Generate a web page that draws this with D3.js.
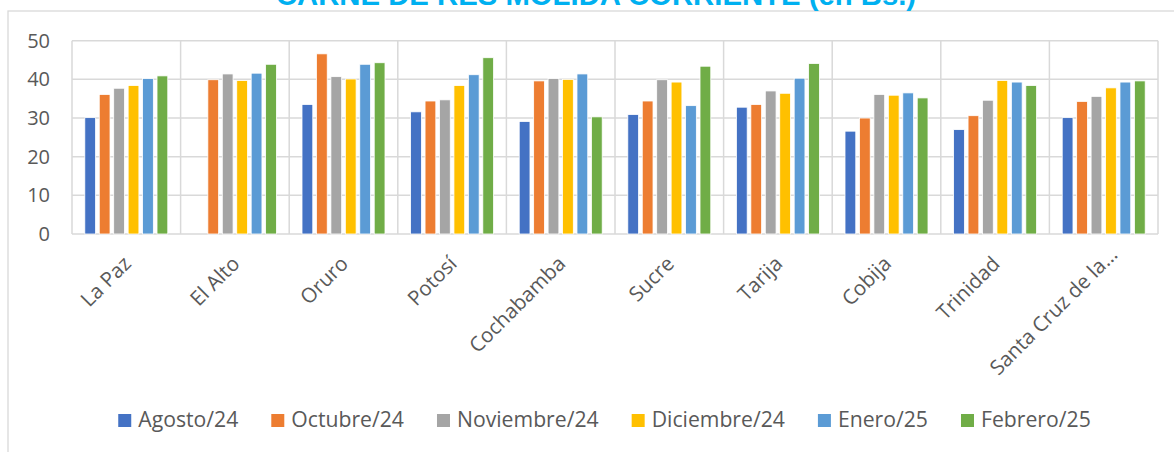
<!DOCTYPE html>
<html>
<head>
<meta charset="utf-8">
<script src="https://cdn.jsdelivr.net/npm/d3@7"></script>
<style>
  body { margin: 0; background: #fff; }
  text { font-family: "Open Sans", sans-serif; fill: #595959; }
</style>
</head>
<body>
<div id="app"></div>
<script>
const title = "CARNE DE RES MOLIDA CORRIENTE (en Bs.)";

const cities = ["La Paz", "El Alto", "Oruro", "Potosí", "Cochabamba", "Sucre", "Tarija", "Cobija", "Trinidad", "Santa Cruz de la…"];
const months = ["Agosto/24", "Octubre/24", "Noviembre/24", "Diciembre/24", "Enero/25", "Febrero/25"];
const colors = ["#4472C4", "#ED7D31", "#A5A5A5", "#FFC000", "#5B9BD5", "#70AD47"];

const agosto24 = [30.1, null, 33.5, 31.6, 29.1, 30.9, 32.8, 26.6, 27.0, 30.1];
const octubre24 = [36.1, 39.9, 46.6, 34.4, 39.6, 34.4, 33.5, 30.0, 30.6, 34.3];
const noviembre24 = [37.7, 41.4, 40.7, 34.7, 40.2, 39.9, 37.0, 36.1, 34.6, 35.6];
const diciembre24 = [38.4, 39.7, 40.1, 38.4, 40.0, 39.3, 36.4, 35.9, 39.7, 37.8];
const enero25 = [40.2, 41.6, 43.9, 41.2, 41.4, 33.2, 40.3, 36.5, 39.3, 39.3];
const febrero25 = [40.9, 43.9, 44.3, 45.6, 30.3, 43.4, 44.1, 35.2, 38.4, 39.6];
const yTicks = [0, 10, 20, 30, 40, 50];

const series = [agosto24, octubre24, noviembre24, diciembre24, enero25, febrero25];

const width = 1174;
const height = 452;
const margin = { left: 72, right: 16, top: 40.7, bottom: 218 };

const svg = d3.select("#app")
  .append("svg")
  .attr("width", width)
  .attr("height", height);

// chart area border
svg.append("rect")
  .attr("x", 8).attr("y", 11)
  .attr("width", 1200).attr("height", 500)
  .attr("fill", "#fff")
  .attr("stroke", "#D9D9D9")
  .attr("stroke-width", 1.3);

svg.append("text")
  .text(title)
  .attr("x", 596)
  .attr("y", 5)
  .attr("text-anchor", "middle")
  .style("font-family", "'Liberation Sans', Arial, sans-serif")
  .style("font-weight", "bold")
  .style("font-size", "29.3px")
  .style("fill", "#00B0F0");

const x0 = d3.scaleBand()
  .domain(cities)
  .range([margin.left, width - margin.right]);

const x1 = d3.scaleBand()
  .domain(months)
  .range([0, x0.bandwidth()])
  .paddingInner(0.254)
  .paddingOuter(0.887);

const y = d3.scaleLinear()
  .domain([0, 50])
  .range([height - margin.bottom, margin.top]);

// horizontal gridlines
svg.append("g")
  .selectAll("line")
  .data(yTicks)
  .join("line")
  .attr("x1", margin.left)
  .attr("x2", width - margin.right)
  .attr("y1", d => y(d))
  .attr("y2", d => y(d))
  .attr("stroke", "#D9D9D9")
  .attr("stroke-width", 1.5);

// vertical gridlines at category boundaries
const bounds = cities.map(c => x0(c)).concat([x0.range()[1]]);
svg.append("g")
  .selectAll("line")
  .data(bounds)
  .join("line")
  .attr("x1", d => d)
  .attr("x2", d => d)
  .attr("y1", y(50))
  .attr("y2", y(0))
  .attr("stroke", "#D9D9D9")
  .attr("stroke-width", 1.5);

// bars
const rows = [];
series.forEach((vals, si) => {
  vals.forEach((v, ci) => {
    if (v != null) rows.push({ city: cities[ci], month: months[si], value: v, color: colors[si] });
  });
});

svg.append("g")
  .selectAll("rect")
  .data(rows)
  .join("rect")
  .attr("x", d => x0(d.city) + x1(d.month))
  .attr("y", d => y(d.value))
  .attr("width", x1.bandwidth())
  .attr("height", d => y(0) - y(d.value))
  .attr("fill", d => d.color)
  .attr("stroke", "#fff")
  .attr("stroke-width", 0.8);

// y axis
const yAxis = svg.append("g")
  .attr("transform", `translate(${margin.left}, 0)`)
  .call(d3.axisLeft(y).tickValues(yTicks).tickSize(0).tickPadding(22));
yAxis.select(".domain").remove();
yAxis.selectAll("text")
  .style("font-size", "20px")
  .style("font-family", "'Open Sans', sans-serif")
  .attr("fill", "#595959");

// x axis
const xAxis = svg.append("g")
  .attr("transform", `translate(0, ${y(0)})`)
  .call(d3.axisBottom(x0).tickSize(0));
xAxis.select(".domain").remove();
xAxis.selectAll("text")
  .style("font-size", "20.5px")
  .style("font-family", "'Open Sans', sans-serif")
  .attr("fill", "#595959")
  .attr("text-anchor", "end")
  .attr("x", 0)
  .attr("y", 0)
  .attr("dy", 0)
  .attr("transform", d => d.endsWith("…") ? "translate(15, 22) rotate(-45)" : "translate(6, 31) rotate(-45)");

// legend
const legend = svg.append("g");
const items = legend.selectAll("g")
  .data(months)
  .join("g");
items.append("rect")
  .attr("width", 13)
  .attr("height", 13)
  .attr("y", 414)
  .attr("fill", (d, i) => colors[i]);
items.append("text")
  .text(d => d)
  .attr("x", 20)
  .attr("y", 427)
  .style("font-size", "21.2px");

let pos = 0;
const offsets = [];
items.each(function() {
  offsets.push(pos);
  const w = d3.select(this).select("text").node().getComputedTextLength();
  pos += 20 + w + 33;
});
const total = pos - 33;
const start = 604.5 - total / 2;
items.attr("transform", (d, i) => `translate(${start + offsets[i]}, 0)`);
</script>
</body>
</html>
